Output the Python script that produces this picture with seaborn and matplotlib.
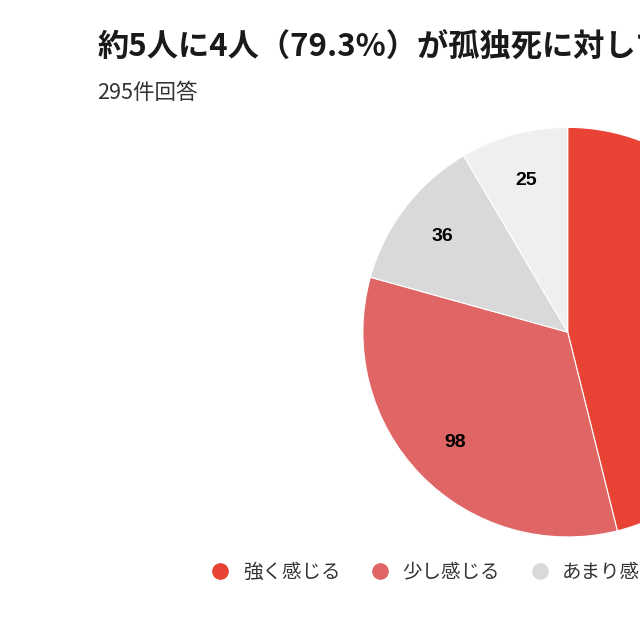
import matplotlib
matplotlib.use("Agg")
import matplotlib.pyplot as plt
from matplotlib.lines import Line2D
import seaborn as sns

# data
labels = ['強く感じる', '少し感じる', 'あまり感じない', '全く感じない']
counts = [136, 98, 36, 25]
colors = ['#E84335', '#E06666', '#D9D9D9', '#EFEFEF']
title = '約5人に4人（79.3%）が孤独死に対して不安を感じている'
subtitle = '295件回答'

sns.set_theme(style="white")
plt.rcParams['font.family'] = ['Noto Sans CJK JP', 'DejaVu Sans']

fig = plt.figure(figsize=(6.4, 6.4), dpi=100)
fig.patch.set_facecolor('white')

# pie is partly off the right edge, like the screenshot
ax = fig.add_axes([0.567, 0.161, 0.64, 0.64])
wedges, texts = ax.pie(
    counts, colors=colors, startangle=90, counterclock=False,
    radius=1.0, wedgeprops=dict(edgecolor='white', linewidth=0.8),
    labels=[str(c) for c in counts], labeldistance=0.77,
    textprops=dict(fontsize=14, fontweight='bold', color='black',
                   family=['Liberation Sans', 'DejaVu Sans'],
                   ha='center', va='center'))
ax.set_xlim(-1, 1)
ax.set_ylim(-1, 1)
ax.set_aspect('equal')
ax.axis('off')

fig.text(0.152, 1 - 47 / 640, title, fontsize=22.5, fontweight='bold',
         color='#1a1a1a', va='center', ha='left')
fig.text(0.152, 1 - 93 / 640, subtitle, fontsize=15.5, color='#333333',
         va='center', ha='left')

handles = [Line2D([], [], marker='o', linestyle='none', markersize=11,
                  markerfacecolor=c, markeredgecolor=c) for c in colors]
fig.legend(handles, labels, ncol=4, loc='center left',
           bbox_to_anchor=(0.329, 1 - 572 / 640), frameon=False,
           fontsize=14, handlelength=1.0, handletextpad=0.65,
           columnspacing=1.55, borderpad=0, borderaxespad=0,
           labelcolor='#333333')

fig.savefig('out.png', dpi=100, facecolor='white')
